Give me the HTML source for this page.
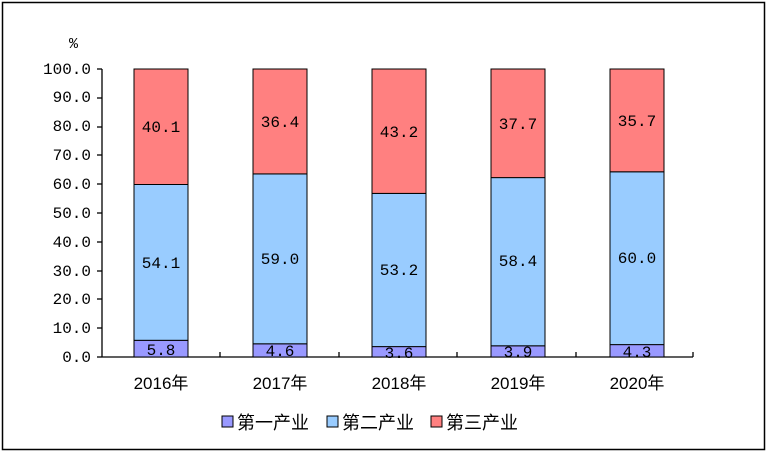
<!DOCTYPE html><html><head><style>body{margin:0;background:#fff}svg{display:block}text{font-family:"Liberation Mono","Noto Sans CJK SC",monospace;fill:#000}.c{font-family:"Liberation Sans","Noto Sans CJK SC",sans-serif}</style></head><body>
<svg width="767" height="452" xmlns="http://www.w3.org/2000/svg">
<rect x="2.5" y="2.5" width="762" height="447" fill="#fff" stroke="#000" stroke-width="1.5"/>
<text x="69" y="48" style="font-size:15px">%</text>
<g text-anchor="end" style="font-size:16px">
<text x="91" y="362">0.0</text><text x="91" y="333">10.0</text><text x="91" y="304">20.0</text><text x="91" y="276">30.0</text><text x="91" y="247">40.0</text><text x="91" y="218">50.0</text><text x="91" y="189">60.0</text><text x="91" y="160">70.0</text><text x="91" y="131">80.0</text><text x="91" y="102">90.0</text><text x="91" y="74">100.0</text>
</g>
<g stroke="#000" stroke-width="1.3">
<line x1="102" y1="69" x2="102" y2="357"/><line x1="102" y1="357" x2="693" y2="357"/>
<line x1="97" y1="69" x2="102" y2="69"/><line x1="97" y1="98" x2="102" y2="98"/><line x1="97" y1="127" x2="102" y2="127"/><line x1="97" y1="155" x2="102" y2="155"/><line x1="97" y1="184" x2="102" y2="184"/><line x1="97" y1="213" x2="102" y2="213"/><line x1="97" y1="242" x2="102" y2="242"/><line x1="97" y1="271" x2="102" y2="271"/><line x1="97" y1="299" x2="102" y2="299"/><line x1="97" y1="328" x2="102" y2="328"/><line x1="97" y1="357" x2="102" y2="357"/>
<line x1="220" y1="352" x2="220" y2="357"/><line x1="339" y1="352" x2="339" y2="357"/><line x1="457" y1="352" x2="457" y2="357"/><line x1="576" y1="352" x2="576" y2="357"/><line x1="693" y1="352" x2="693" y2="357"/>
</g>
<g stroke="#000" stroke-width="1">
<rect x="134" y="340.3" width="54" height="16.7" fill="#9999ff"/><rect x="134" y="184.5" width="54" height="155.8" fill="#99ccff"/><rect x="134" y="69" width="54" height="115.5" fill="#ff8080"/>
<rect x="253" y="343.8" width="54" height="13.2" fill="#9999ff"/><rect x="253" y="173.9" width="54" height="169.9" fill="#99ccff"/><rect x="253" y="69" width="54" height="104.9" fill="#ff8080"/>
<rect x="372" y="346.6" width="54" height="10.4" fill="#9999ff"/><rect x="372" y="193.4" width="54" height="153.2" fill="#99ccff"/><rect x="372" y="69" width="54" height="124.4" fill="#ff8080"/>
<rect x="491" y="345.8" width="54" height="11.2" fill="#9999ff"/><rect x="491" y="177.6" width="54" height="168.2" fill="#99ccff"/><rect x="491" y="69" width="54" height="108.6" fill="#ff8080"/>
<rect x="610" y="344.6" width="54" height="12.4" fill="#9999ff"/><rect x="610" y="171.8" width="54" height="172.8" fill="#99ccff"/><rect x="610" y="69" width="54" height="102.8" fill="#ff8080"/>
</g>
<g text-anchor="middle" style="font-size:16px">
<text x="161" y="355">5.8</text><text x="161" y="268">54.1</text><text x="161" y="132">40.1</text>
<text x="280" y="356">4.6</text><text x="280" y="264">59.0</text><text x="280" y="127">36.4</text>
<text x="399" y="358">3.6</text><text x="399" y="275">53.2</text><text x="399" y="137">43.2</text>
<text x="518" y="357">3.9</text><text x="518" y="266">58.4</text><text x="518" y="129">37.7</text>
<text x="637" y="357">4.3</text><text x="637" y="263">60.0</text><text x="637" y="126">35.7</text>
</g>
<g text-anchor="middle" style="font-size:17px">
<text class="c" x="161" y="389">2016年</text><text class="c" x="280" y="389">2017年</text><text class="c" x="399" y="389">2018年</text><text class="c" x="518" y="389">2019年</text><text class="c" x="637" y="389">2020年</text>
</g>
<g stroke="#000" stroke-width="1">
<rect x="222" y="416" width="11" height="11" fill="#9999ff"/><rect x="327" y="416" width="11" height="11" fill="#99ccff"/><rect x="431" y="416" width="11" height="11" fill="#ff8080"/>
</g>
<g style="font-size:18px"><text class="c" x="237" y="429">第一产业</text><text class="c" x="342" y="429">第二产业</text><text class="c" x="446" y="429">第三产业</text></g>
</svg></body></html>
